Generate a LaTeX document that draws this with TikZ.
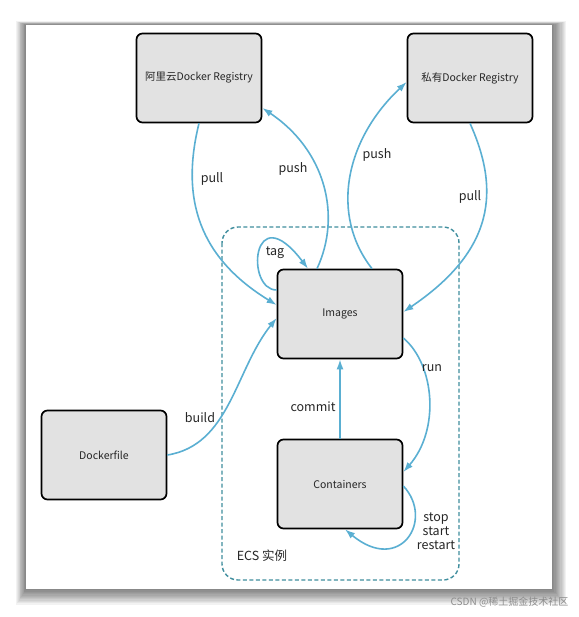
\documentclass[tikz,border=0pt]{standalone}
\usepackage{fontspec}
\setmainfont{Noto Sans CJK SC}
\usepackage{xcolor}
\usetikzlibrary{arrows.meta}
\definecolor{flow}{HTML}{5AAFD2}
\definecolor{boxgray}{HTML}{E2E2E2}
\definecolor{ecsline}{HTML}{3F8E9E}

\begin{document}
\begin{tikzpicture}[x=1pt, y=-1pt,
		box/.style = {draw = black, line width = 1.7pt, fill = boxgray, rounded corners = 6pt, minimum width = 125pt, minimum height = 89pt, font = \fontsize{10.5}{12}\selectfont, text = black!85},
		flowarrow/.style = {draw = flow, line width = 1.6pt, -{Latex[length=10pt, width=7pt]}},
		lbl/.style = {font = \fontsize{12.5}{14.5}\selectfont, text = black!85}]
		\useasboundingbox (0,0) rectangle (578,617);
		\foreach \i in {1,...,12}
			\fill[black, opacity = 0.05] (26-0.8*\i, 25-0.3*\i) rectangle (552+1.2*\i, 589+1.3*\i);
		\fill[white] (26,25) rectangle (552,589);
		\draw[ecsline, line width = 1.4pt, dash pattern = on 4pt off 2.5pt, rounded corners = 16pt] (222,227) rectangle (459,580);
		\node[box] (ali) at (199,78) {阿里云Docker Registry};
		\node[box] (priv) at (470,78) {私有Docker Registry};
		\node[box] (img) at (340,314) {Images};
		\node[box] (cont) at (340,484) {Containers};
		\node[box] (dfile) at (104,455) {Dockerfile};
		\draw[flowarrow] (ali.south) .. controls (180,200) and (200,258) .. ([yshift=9pt]img.west);
		\draw[flowarrow] ([xshift=-23pt]img.north) .. controls (342,215) and (325,150) .. ([yshift=-30pt]ali.east);
		\draw[flowarrow] ([xshift=32pt]img.north) .. controls (330,215) and (345,140) .. ([yshift=-4pt]priv.west);
		\draw[flowarrow] (priv.south) .. controls (500,190) and (495,250) .. ([yshift=2pt]img.east);
		\draw[flowarrow] ([yshift=24pt]img.west) .. controls (245,290) and (252,195) .. ([xshift=-32pt]img.north);
		\draw[flowarrow] (dfile.east) .. controls (230,445) and (235,370) .. ([yshift=-4pt]img.west);
		\draw[flowarrow] (cont.north) -- (img.south);
		\draw[flowarrow] ([yshift=-24pt]img.east) .. controls (435,365) and (440,430) .. ([yshift=12pt]cont.east);
		\draw[flowarrow] ([yshift=-2pt]cont.east) .. controls (435,520) and (400,575) .. ([xshift=5pt]cont.south);
		\node[lbl] at (212,179) {pull};
		\node[lbl] at (293,169) {push};
		\node[lbl] at (377,155) {push};
		\node[lbl] at (470,197) {pull};
		\node[lbl] at (275,253) {tag};
		\node[lbl] at (200,418) {build};
		\node[lbl] at (313,407) {commit};
		\node[lbl] at (432,368) {run};
		\node[lbl, align = center, font = \fontsize{12.5}{14}\selectfont] at (436,531) {stop\\start\\restart};
		\node[lbl] at (262,556) {ECS 实例};
		\node[font = \fontsize{10}{12}\selectfont, text = black!45, anchor = east] at (572,602) {CSDN @稀土掘金技术社区};
	\end{tikzpicture}
\end{document}
